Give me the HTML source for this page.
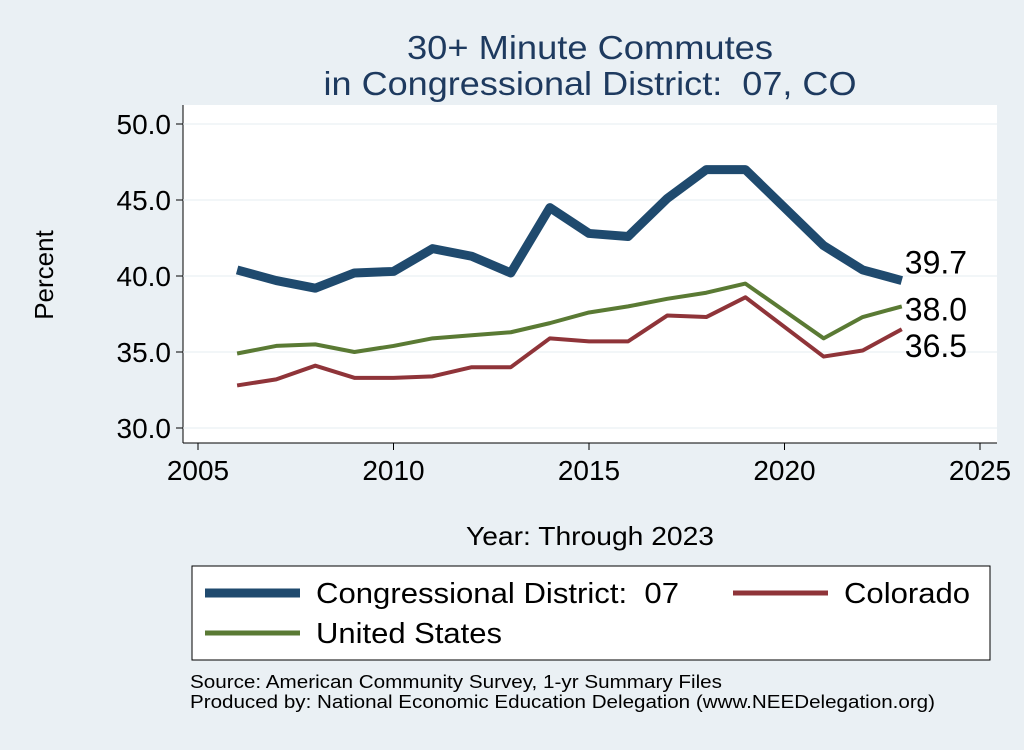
<!DOCTYPE html>
<html><head><meta charset="utf-8"><style>
body{margin:0;background:#eaf0f4;font-family:"Liberation Sans",sans-serif}
svg text{font-family:"Liberation Sans",sans-serif;white-space:pre}
</style></head><body>
<svg id="c" width="1024" height="745">
<rect x="0" y="0" width="1024" height="745" fill="#eaf0f4"/>
<rect x="183" y="105" width="814" height="338" fill="#fff"/>
<text x="590" y="59" text-anchor="middle" font-size="33" fill="#1e3a5f" textLength="366" lengthAdjust="spacingAndGlyphs">30+ Minute Commutes</text>
<text x="590" y="95" text-anchor="middle" font-size="33" fill="#1e3a5f" textLength="533" lengthAdjust="spacingAndGlyphs">in Congressional District:  07, CO</text>
<text x="590" y="545" text-anchor="middle" font-size="26" fill="#000" textLength="248" lengthAdjust="spacingAndGlyphs">Year: Through 2023</text>
<text transform="translate(53,275) rotate(-90)" text-anchor="middle" font-size="26">Percent</text>
<g id="axes"></g><g id="series"></g>
<rect x="192" y="566" width="798" height="94" fill="#fff" stroke="#000" stroke-width="1"/>
<g><line x1="205" y1="593" x2="300" y2="593" stroke="#1f4a6e" stroke-width="9"/><text x="316" y="603" font-size="29" textLength="363" lengthAdjust="spacingAndGlyphs">Congressional District:  07</text></g>
<g><line x1="733" y1="593" x2="828" y2="593" stroke="#8f3439" stroke-width="5"/><text x="844" y="603" font-size="29" textLength="126" lengthAdjust="spacingAndGlyphs">Colorado</text></g>
<g><line x1="205" y1="633" x2="300" y2="633" stroke="#5a7a34" stroke-width="5"/><text x="316" y="643" font-size="29" textLength="186" lengthAdjust="spacingAndGlyphs">United States</text></g>
<text x="190" y="688" font-size="18.5" textLength="532" lengthAdjust="spacingAndGlyphs">Source: American Community Survey, 1-yr Summary Files</text>
<text x="190" y="708" font-size="18.5" textLength="745" lengthAdjust="spacingAndGlyphs">Produced by: National Economic Education Delegation (www.NEEDelegation.org)</text>
</svg>
<script>
const years=[2006,2007,2008,2009,2010,2011,2012,2013,2014,2015,2016,2017,2018,2019,2021,2022,2023];
const district=[40.4,39.7,39.2,40.2,40.3,41.8,41.3,40.2,44.5,42.8,42.6,45.1,47.0,47.0,42.0,40.4,39.7];
const colorado=[32.8,33.2,34.1,33.3,33.3,33.4,34.0,34.0,35.9,35.7,35.7,37.4,37.3,38.6,34.7,35.1,36.5];
const us=[34.9,35.4,35.5,35.0,35.4,35.9,36.1,36.3,36.9,37.6,38.0,38.5,38.9,39.5,35.9,37.3,38.0];
const xTicks=[2005,2010,2015,2020,2025];
const yTicks=[30,35,40,45,50];
const NS="http://www.w3.org/2000/svg";
const X=v=>198+(v-2005)*39.1, Y=v=>428-(v-30)*15.2;
const ax=document.getElementById('axes'), se=document.getElementById('series');
function mk(t,a,p){const e=document.createElementNS(NS,t);for(const k in a)e.setAttribute(k,a[k]);p.appendChild(e);return e;}
mk('line',{x1:183,y1:105,x2:183,y2:443,stroke:'#000'},ax);
mk('line',{x1:183,y1:443,x2:997,y2:443,stroke:'#000'},ax);
yTicks.forEach(t=>{
 const g=mk('line',{x1:183,x2:997,y1:Y(t),y2:Y(t),stroke:'#e6ecf0'},ax);
 
 
 mk('line',{x1:176,x2:183,y1:Y(t),y2:Y(t),stroke:'#000'},ax);
 const l=mk('text',{x:171,y:Y(t)+10,'text-anchor':'end','font-size':28},ax);l.textContent=t.toFixed(1);
 
 
});
xTicks.forEach(t=>{
 mk('line',{x1:X(t),x2:X(t),y1:443,y2:450,stroke:'#000'},ax);
 const l=mk('text',{x:X(t),y:480,'text-anchor':'middle','font-size':28},ax);l.textContent=t;
 
 
});
function line(d,c,w,name){
 const p=mk('polyline',{points:d.map((v,i)=>X(years[i])+','+Y(v)).join(' '),fill:'none',stroke:c,'stroke-width':w,'stroke-linejoin':'round'},se);
 
 
}
line(us,'#5a7a34',4,'us-line');
line(colorado,'#8f3439',4,'colorado-line');
line(district,'#1f4a6e',9,'district-line');
const last=years.length-1;
[[district,-7,'district-end-label'],[us,14,'us-end-label'],[colorado,28,'colorado-end-label']].forEach(([d,dy,n])=>{
 const t=mk('text',{x:X(years[last])+3,y:Y(d[last])+dy,'font-size':32},se);t.textContent=d[last].toFixed(1);
 
 
});
</script>
</body></html>
